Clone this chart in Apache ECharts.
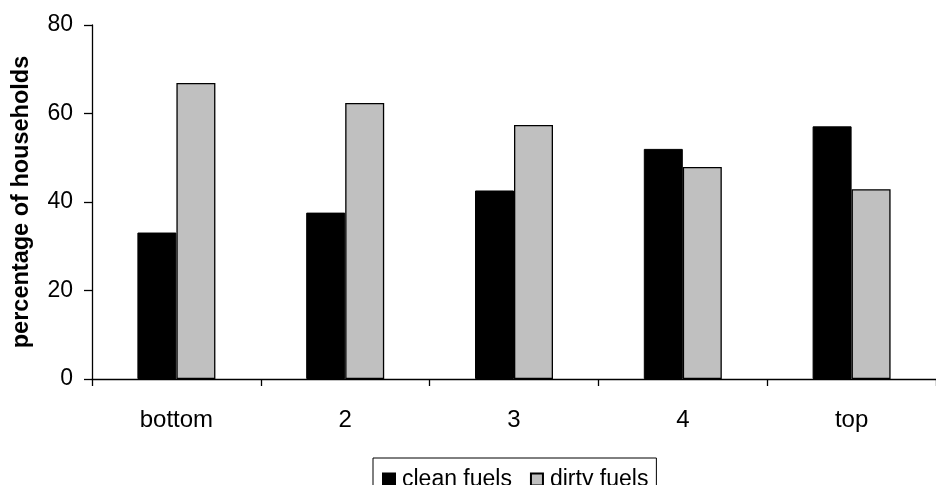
<!DOCTYPE html>
<html>
<head>
<meta charset="utf-8">
<script src="https://cdn.jsdelivr.net/npm/echarts@6/dist/echarts.min.js"></script>
<style>html,body{margin:0;padding:0;background:#fff;}#c{width:936px;height:485px;}</style>
</head>
<body>
<div id="c"></div>
<script>
var categories = ['bottom', '2', '3', '4', 'top'];
var cleanFuels = [33.1, 37.6, 42.6, 52.0, 57.1];
var dirtyFuels = [66.9, 62.4, 57.4, 47.9, 42.9];
var yTicks = [0, 20, 40, 60, 80];

var FONT = 'Liberation Sans, Arial, sans-serif';
var chart = echarts.init(document.getElementById('c'), null, {renderer: 'canvas'});
chart.setOption({
  animation: false,
  backgroundColor: '#fff',
  grid: {left: 92, right: -6, top: 25, bottom: 106, containLabel: false},
  legend: {
    data: ['clean fuels', 'dirty fuels'],
    left: 373, top: 458,
    orient: 'horizontal',
    borderColor: '#000', borderWidth: 1,
    padding: [10, 8, 20, 9],
    itemWidth: 12, itemHeight: 12, itemGap: 18,
    textStyle: {fontFamily: FONT, fontSize: 23, color: '#000', padding: [0, 0, 0, 2]},
    icon: 'rect'
  },
  xAxis: {
    type: 'category',
    data: categories,
    axisLine: {show: true, lineStyle: {color: '#000', width: 1.3}},
    axisTick: {show: true, length: 7, lineStyle: {color: '#000', width: 1.3}},
    axisLabel: {fontFamily: FONT, fontSize: 24, color: '#000', margin: 29},
    splitLine: {show: false}
  },
  yAxis: {
    type: 'value',
    min: yTicks[0], max: yTicks[yTicks.length - 1], interval: 20,
    name: 'percentage of households',
    nameLocation: 'middle',
    nameGap: 58,
    nameTextStyle: {fontFamily: FONT, fontSize: 23.5, fontWeight: 'bold', color: '#000'},
    axisLine: {show: true, lineStyle: {color: '#000', width: 1.3}},
    axisTick: {show: true, length: 8, lineStyle: {color: '#000', width: 1.3}},
    axisLabel: {fontFamily: FONT, fontSize: 23, color: '#000', margin: 19},
    splitLine: {show: false}
  },
  series: [
    {
      name: 'clean fuels', type: 'bar', data: cleanFuels,
      barWidth: 39, barGap: '0%',
      itemStyle: {color: '#000', borderColor: '#000', borderWidth: 1}
    },
    {
      name: 'dirty fuels', type: 'bar', data: dirtyFuels,
      barWidth: 39, barGap: '0%',
      itemStyle: {color: '#c0c0c0', borderColor: '#000', borderWidth: 1.3}
    }
  ]
});
</script>
</body>
</html>
